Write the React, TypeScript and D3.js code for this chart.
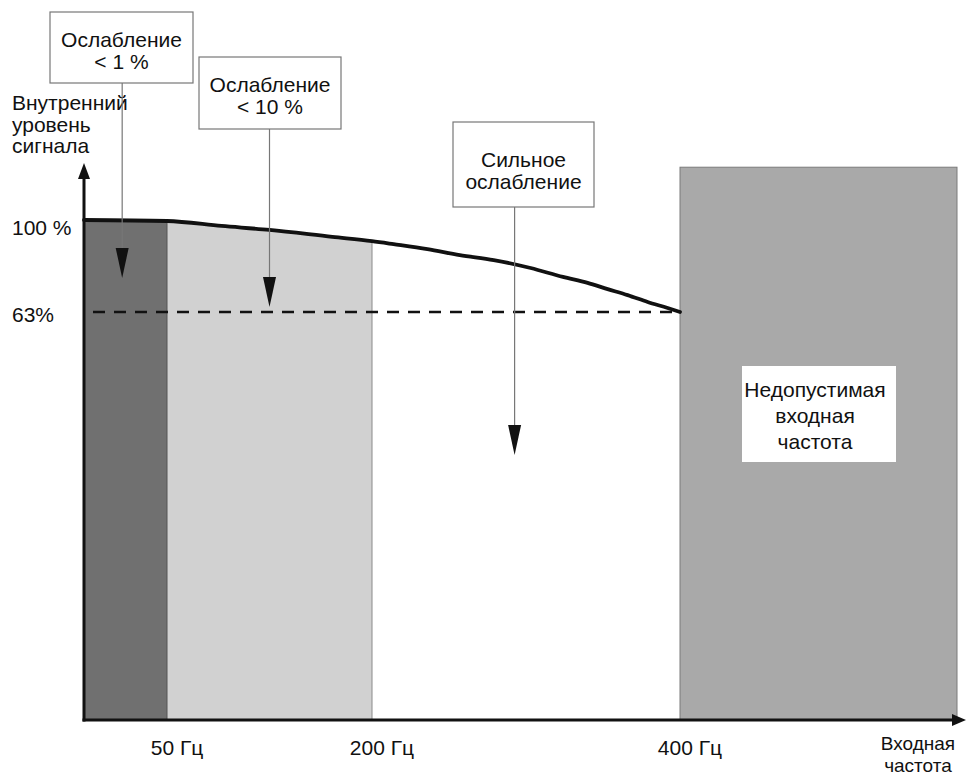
import React from "react";
import * as d3 from "d3";

const W = 966;
const H = 776;

// Frequency breakpoints (Hz) and curve data
const zoneBounds = [0, 50, 200, 400];
const freqMax = 490;
const tickFreqs = [50, 200, 400];
const tickLabels = ["50 Гц", "200 Гц", "400 Гц"];

const curveFreq = [0, 50, 90, 125, 171, 200, 214, 236, 257, 279, 303, 324, 340, 353, 366, 379, 392, 400];
const curveLevel = [100, 99.6, 97.6, 96, 93.2, 91.5, 90.3, 88.3, 85.9, 83.9, 80.7, 77.1, 74.7, 72.2, 69.8, 67.0, 64.6, 63];

const levelTicks = [100, 63];
const levelTickLabels = ["100 %", "63%"];
const forbiddenTop = 121.3;
const axisTop = 123;

// Annotations: arrow at (freq, level tip), box text lines
const annoFreq = [23, 125, 292.6];
const annoTip = [76.7, 65, 40.9];
const annoLines = [["Ослабление", "< 1 %"], ["Ослабление", "< 10 %"], ["Сильное", "ослабление"]];
const annoBoxX = [50, 199, 453];
const annoBoxY = [12, 57, 122];
const annoBoxW = [143, 142, 141];
const annoBoxH = [71, 72, 85];
const annoTextY = [47, 92, 167];

const yLabelLines = ["Внутренний", "уровень", "сигнала"];
const xLabelLines = ["Входная", "частота"];
const forbiddenLines = ["Недопустимая", "входная", "частота"];

export default function App() {
  const x = d3.scaleLinear().domain([0, 50, 200, 400, freqMax]).range([84, 167, 372, 680, 957]);
  const y = d3.scaleLinear().domain([0, 63, 100, axisTop]).range([720, 312, 220, 163]);

  const pts: [number, number][] = curveFreq.map((f, i) => [f, curveLevel[i]]);
  const line = d3.line<[number, number]>().x(d => x(d[0])).y(d => y(d[1])).curve(d3.curveMonotoneX);
  const area = d3.area<[number, number]>().x(d => x(d[0])).y0(y(0)).y1(d => y(d[1])).curve(d3.curveMonotoneX);

  const darkPts = pts.filter(p => p[0] >= zoneBounds[0] && p[0] <= zoneBounds[1]);
  const lightPts = pts.filter(p => p[0] >= zoneBounds[1] && p[0] <= zoneBounds[2]);

  const font = "'Liberation Sans', Arial, sans-serif";
  const fs = 21;
  const x0 = x(0);
  const y0 = y(0);
  const tickOffsets = [15, 10];

  return (
    <svg width={W} height={H} style={{ position: "absolute", left: 0, top: 0, background: "#fff" }} fontFamily={font}>
      {/* zones */}
      <path d={area(lightPts) || ""} fill="#d1d1d1" />
      <line x1={x(zoneBounds[2])} x2={x(zoneBounds[2])} y1={y(curveLevel[5])} y2={y0} stroke="#8a8a8a" strokeWidth={1} />
      <path d={area(darkPts) || ""} fill="#707070" />
      <line x1={x(zoneBounds[1])} x2={x(zoneBounds[1])} y1={y(curveLevel[1])} y2={y0} stroke="#555" strokeWidth={1} />
      <rect x={x(zoneBounds[3])} y={y(forbiddenTop)} width={x(freqMax) - x(zoneBounds[3])} height={y0 - y(forbiddenTop)} fill="#a9a9a9" stroke="#7a7a7a" strokeWidth={1} />

      {/* 63% dashed line */}
      <line x1={x0 + 9} x2={x(400)} y1={y(63)} y2={y(63)} stroke="#111" strokeWidth={2.5} strokeDasharray="12,9" />

      {/* curve */}
      <path d={line(pts) || ""} fill="none" stroke="#111" strokeWidth={3.8} strokeLinejoin="round" strokeLinecap="round" />

      {/* axes */}
      <line x1={x0} x2={x0} y1={y0 + 1.5} y2={y(axisTop) + 12} stroke="#111" strokeWidth={3} />
      <path d={`M${x0 - 6},${y(axisTop) + 16} L${x0},${y(axisTop)} L${x0 + 6},${y(axisTop) + 16} Z`} fill="#111" />
      <line x1={x0 - 1.5} x2={W - 10} y1={y0} y2={y0} stroke="#111" strokeWidth={3} />
      <path d={`M${W - 14},${y0 - 6} L${W},${y0} L${W - 14},${y0 + 6} Z`} fill="#111" />

      {/* y tick labels */}
      {levelTicks.map((v, i) => (
        <text key={i} x={12} y={y(v) + tickOffsets[i]} fontSize={fs} fill="#111">{levelTickLabels[i]}</text>
      ))}
      {yLabelLines.map((s, i) => (
        <text key={i} x={12} y={110 + i * 21.5} fontSize={fs} fill="#111">{s}</text>
      ))}

      {/* x tick labels */}
      {tickFreqs.map((f, i) => (
        <text key={i} x={x(f) + 10} y={755} fontSize={fs} fill="#111" textAnchor="middle">{tickLabels[i]}</text>
      ))}
      {xLabelLines.map((s, i) => (
        <text key={i} x={918} y={750 + i * 22} fontSize={19} fill="#111" textAnchor="middle">{s}</text>
      ))}

      {/* forbidden label */}
      <rect x={742} y={366} width={154} height={96} fill="#fff" />
      {forbiddenLines.map((s, i) => (
        <text key={i} x={815} y={397 + i * 26} fontSize={fs} fill="#111" textAnchor="middle">{s}</text>
      ))}

      {/* annotations */}
      {annoFreq.map((f, i) => {
        const ax = x(f);
        const tip = y(annoTip[i]);
        const boxBottom = annoBoxY[i] + annoBoxH[i];
        const cx = annoBoxX[i] + annoBoxW[i] / 2;
        return (
          <g key={i}>
            <line x1={ax} x2={ax} y1={boxBottom} y2={tip - 28} stroke="#777" strokeWidth={1.2} />
            <path d={`M${ax - 6.5},${tip - 30} L${ax + 6.5},${tip - 30} L${ax},${tip} Z`} fill="#111" />
            <rect x={annoBoxX[i]} y={annoBoxY[i]} width={annoBoxW[i]} height={annoBoxH[i]} fill="#fff" stroke="#777" strokeWidth={1.2} />
            {annoLines[i].map((s, j) => (
              <text key={j} x={cx} y={annoTextY[i] + j * 22} fontSize={fs} fill="#111" textAnchor="middle">{s}</text>
            ))}
          </g>
        );
      })}
    </svg>
  );
}
